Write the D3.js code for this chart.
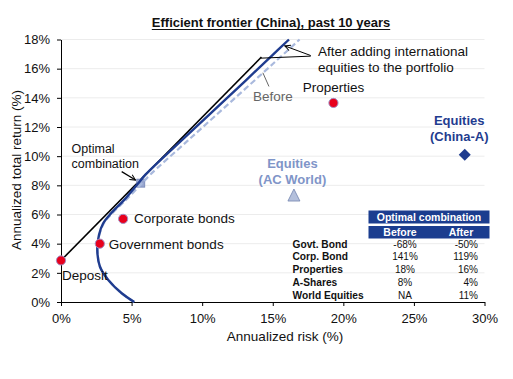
<!DOCTYPE html>
<html><head><meta charset="utf-8">
<script src="https://cdn.jsdelivr.net/npm/d3@7"></script>
<style>body{margin:0;background:#fff}svg{display:block;font-family:"Liberation Sans",Arial,sans-serif}</style>
</head><body><svg id="c" width="513" height="379"></svg>
<script>
// ---- data ----
const xTicks = [0, 5, 10, 15, 20, 25, 30];
const yTicks = [0, 2, 4, 6, 8, 10, 12, 14, 16, 18];
const assetNames = ["Deposit", "Government bonds", "Corporate bonds", "Properties"];
const assetRisk = [0, 2.75, 4.4, 19.3];
const assetReturn = [2.85, 4.0, 5.7, 13.65];
const equityNames = [["Equities", "(China-A)"], ["Equities", "(AC World)"]];
const equityRisk = [28.6, 16.5];
const equityReturn = [10.1, 7.3];
const optimalRisk = [5.65];
const optimalReturn = [8.15];
const afterRisk = [5.19, 4.30, 3.35, 2.76, 2.57, 2.69, 2.99, 3.54, 4.48, 5.47, 6.0, 9.0, 12.0, 15.0, 16.15];
const afterReturn = [0, 0.6, 1.51, 2.42, 3.57, 4.6, 5.4, 6.08, 7.0, 8.14, 8.75, 11.5, 14.2, 16.95, 18];
const beforeRisk = [5.19, 4.30, 3.35, 2.77, 2.59, 2.72, 3.04, 3.63, 4.6, 5.6, 6.3, 9.0, 12.0, 15.0, 16.9];
const beforeReturn = [0, 0.6, 1.51, 2.42, 3.57, 4.6, 5.4, 6.08, 7.0, 8.0, 8.71, 11.08, 13.7, 16.32, 18];
const tangentRisk = [0, 14.2];
const tangentReturn = [2.85, 16.8];
const tableRows = ["Govt. Bond", "Corp. Bond", "Properties", "A-Shares", "World Equities"];
const tableBefore = ["-68%", "141%", "18%", "8%", "NA"];
const tableAfter = ["-50%", "119%", "16%", "4%", "11%"];

// ---- setup ----
const svg = d3.select("#c");
const x = d3.scaleLinear().domain([0, 30]).range([61, 484.5]);
const y = d3.scaleLinear().domain([0, 18]).range([302, 39.5]);
const navy = "#1f3c8f", light = "#a9b9dd";

// defs: arrow marker
const defs = svg.append("defs");
defs.append("marker").attr("id", "arr").attr("viewBox", "0 0 10 10").attr("refX", 9).attr("refY", 5)
  .attr("markerWidth", 7).attr("markerHeight", 7).attr("orient", "auto-start-reverse")
  .attr("markerUnits", "userSpaceOnUse")
  .append("path").attr("d", "M1,1 L9,5 L1,9").attr("fill", "none").attr("stroke", "#000").attr("stroke-width", 1.4);

// gridlines
svg.append("g").selectAll("line").data(yTicks.filter(d => d > 0)).join("line")
  .attr("x1", x(0)).attr("x2", x(30)).attr("y1", d => y(d)).attr("y2", d => y(d))
  .attr("stroke", "#ececec").attr("stroke-width", 1);

// axes
const yAxis = svg.append("g").attr("transform", `translate(${x(0)},0)`)
  .call(d3.axisLeft(y).tickValues(yTicks).tickFormat(d => d + "%").tickSize(4).tickSizeOuter(0).tickPadding(7));
const xAxis = svg.append("g").attr("transform", `translate(0,${y(0)})`)
  .call(d3.axisBottom(x).tickValues(xTicks).tickFormat(d => d + "%").tickSize(4).tickSizeOuter(0).tickPadding(8));
[yAxis, xAxis].forEach(g => {
  g.selectAll("text").attr("font-size", 13).attr("fill", "#111").attr("font-family", '"Liberation Sans",Arial,sans-serif');
  g.selectAll("line,path").attr("stroke", "#000");
});

// axis titles
svg.append("text").attr("x", 285).attr("y", 341).attr("text-anchor", "middle").attr("font-size", 13.5)
  .attr("fill", "#111").text("Annualized risk (%)");
svg.append("text").attr("transform", "translate(21,170) rotate(-90)").attr("text-anchor", "middle")
  .attr("font-size", 13.5).attr("fill", "#111").text("Annualized total return (%)");

// title
const title = svg.append("text").attr("x", 271).attr("y", 27).attr("text-anchor", "middle")
  .attr("font-size", 13).attr("font-weight", "bold").attr("fill", "#111")
  .text("Efficient frontier (China), past 10 years");
const tw = title.node().getComputedTextLength();
svg.append("line").attr("x1", 271 - tw / 2).attr("x2", 271 + tw / 2).attr("y1", 29.5).attr("y2", 29.5)
  .attr("stroke", "#111").attr("stroke-width", 1);

// tangent line
const line = d3.line().x(d => x(d[0])).y(d => y(d[1]));
svg.append("path").datum(tangentRisk.map((r, i) => [r, tangentReturn[i]]))
  .attr("d", line).attr("fill", "none").attr("stroke", "#000").attr("stroke-width", 1.6);

// optimal combination square (under lines)
svg.append("g").selectAll("rect").data(optimalRisk.map((r, i) => [r, optimalReturn[i]])).join("rect")
  .attr("x", d => x(d[0]) - 4).attr("y", d => y(d[1]) - 4).attr("width", 8).attr("height", 8)
  .attr("fill", "#97a6cf").attr("stroke", "#7384b6").attr("stroke-width", 0.8);

// frontiers
const curve = d3.line().x(d => x(d[0])).y(d => y(d[1])).curve(d3.curveCatmullRom.alpha(0.5));
svg.append("path").datum(beforeRisk.map((r, i) => [r, beforeReturn[i]]))
  .attr("d", curve).attr("fill", "none").attr("stroke", light).attr("stroke-width", 2.2).attr("stroke-dasharray", "6,3");
svg.append("path").datum(afterRisk.map((r, i) => [r, afterReturn[i]]))
  .attr("d", curve).attr("fill", "none").attr("stroke", navy).attr("stroke-width", 2.4);

// asset dots
const assets = assetNames.map((n, i) => ({ n, r: assetRisk[i], m: assetReturn[i] }));
svg.append("g").selectAll("circle").data(assets).join("circle")
  .attr("cx", d => x(d.r)).attr("cy", d => y(d.m)).attr("r", 4.6)
  .attr("fill", "#e8001c").attr("stroke", "#a290c6").attr("stroke-width", 1);
const labelOff = { "Deposit": [1, 20, "start"], "Government bonds": [9, 5, "start"], "Corporate bonds": [11, 4.5, "start"], "Properties": [0, -10.5, "middle"] };
svg.append("g").selectAll("text").data(assets).join("text")
  .attr("x", d => x(d.r) + labelOff[d.n][0]).attr("y", d => y(d.m) + labelOff[d.n][1])
  .attr("text-anchor", d => labelOff[d.n][2]).attr("font-size", 13.5).attr("fill", "#111").text(d => d.n);

// equities markers
const cx = x(equityRisk[0]), cy = y(equityReturn[0]);
svg.append("path").attr("d", `M${cx},${cy - 6}L${cx + 6},${cy}L${cx},${cy + 6}L${cx - 6},${cy}Z`).attr("fill", navy);
const tx = x(equityRisk[1]), ty = y(equityReturn[1]);
svg.append("path").attr("d", `M${tx},${ty - 6.5}L${tx + 6},${ty + 5.5}L${tx - 6},${ty + 5.5}Z`)
  .attr("fill", "#b4c0dc").attr("stroke", "#7385b0").attr("stroke-width", 0.8);
const eqColors = [navy, "#7f95c8"];
const eqOff = [[-5.5, -29.5], [-1.5, -27.5]];
equityNames.forEach((lines, i) => {
  const t = svg.append("text").attr("font-size", 13).attr("font-weight", "bold").attr("fill", eqColors[i]).attr("text-anchor", "middle");
  lines.forEach((s, j) => t.append("tspan").attr("x", x(equityRisk[i]) + eqOff[i][0])
    .attr("y", y(equityReturn[i]) + eqOff[i][1] + j * 16).text(s));
});

// optimal combination annotation
const oc = svg.append("text").attr("font-size", 12.5).attr("fill", "#111");
oc.append("tspan").attr("x", x(0.75)).attr("y", y(optimalReturn[0]) - 30.5).text("Optimal");
oc.append("tspan").attr("x", x(0.75)).attr("y", y(optimalReturn[0]) - 15.5).text("combination");
svg.append("line").attr("x1", x(4.3)).attr("y1", y(8.94)).attr("x2", x(5.28)).attr("y2", y(8.36))
  .attr("stroke", "#000").attr("stroke-width", 1.2).attr("marker-end", "url(#arr)");

// "After adding..." annotation
const aa = svg.append("text").attr("font-size", 13.5).attr("fill", "#111");
aa.append("tspan").attr("x", x(18.2)).attr("y", y(16.9)).text("After adding international");
aa.append("tspan").attr("x", x(18.2)).attr("y", y(15.8)).text("equities to the portfolio");
svg.append("line").attr("x1", x(17.69)).attr("y1", y(16.9)).attr("x2", x(15.85)).attr("y2", y(17.56))
  .attr("stroke", "#000").attr("stroke-width", 1).attr("marker-end", "url(#arr)");
svg.append("line").attr("x1", x(17.69)).attr("y1", y(16.86)).attr("x2", x(14.15)).attr("y2", y(16.72))
  .attr("stroke", "#000").attr("stroke-width", 1);

// "Before" annotation
svg.append("line").attr("x1", x(14.73)).attr("y1", y(14.78)).attr("x2", x(14.3)).attr("y2", y(15.72))
  .attr("stroke", "#666").attr("stroke-width", 1);
svg.append("text").attr("x", x(13.6)).attr("y", y(13.77)).attr("font-size", 13.5).attr("fill", "#666").text("Before");

// table
const tbl = svg.append("g");
tbl.append("rect").attr("x", 368.5).attr("y", 210.5).attr("width", 121).attr("height", 13).attr("fill", "#1b3d8f");
tbl.append("rect").attr("x", 368.5).attr("y", 226).attr("width", 121).attr("height", 12.5).attr("fill", "#1b3d8f");
tbl.append("text").attr("x", 429).attr("y", 221).attr("text-anchor", "middle").attr("font-size", 10.5)
  .attr("font-weight", "bold").attr("fill", "#fff").text("Optimal combination");
tbl.append("text").attr("x", 400).attr("y", 236).attr("text-anchor", "middle").attr("font-size", 10.5)
  .attr("font-weight", "bold").attr("fill", "#fff").text("Before");
tbl.append("text").attr("x", 461).attr("y", 236).attr("text-anchor", "middle").attr("font-size", 10.5)
  .attr("font-weight", "bold").attr("fill", "#fff").text("After");
tableRows.forEach((r, i) => {
  const yy = 247.5 + i * 12.8;
  tbl.append("text").attr("x", 292.5).attr("y", yy).attr("font-size", 10.2).attr("font-weight", "bold").attr("fill", "#111").text(r);
  tbl.append("text").attr("x", 405).attr("y", yy).attr("text-anchor", "middle").attr("font-size", 10).attr("fill", "#111").text(tableBefore[i]);
  tbl.append("text").attr("x", 478).attr("y", yy).attr("text-anchor", "end").attr("font-size", 10).attr("fill", "#111").text(tableAfter[i]);
});
</script></body></html>
